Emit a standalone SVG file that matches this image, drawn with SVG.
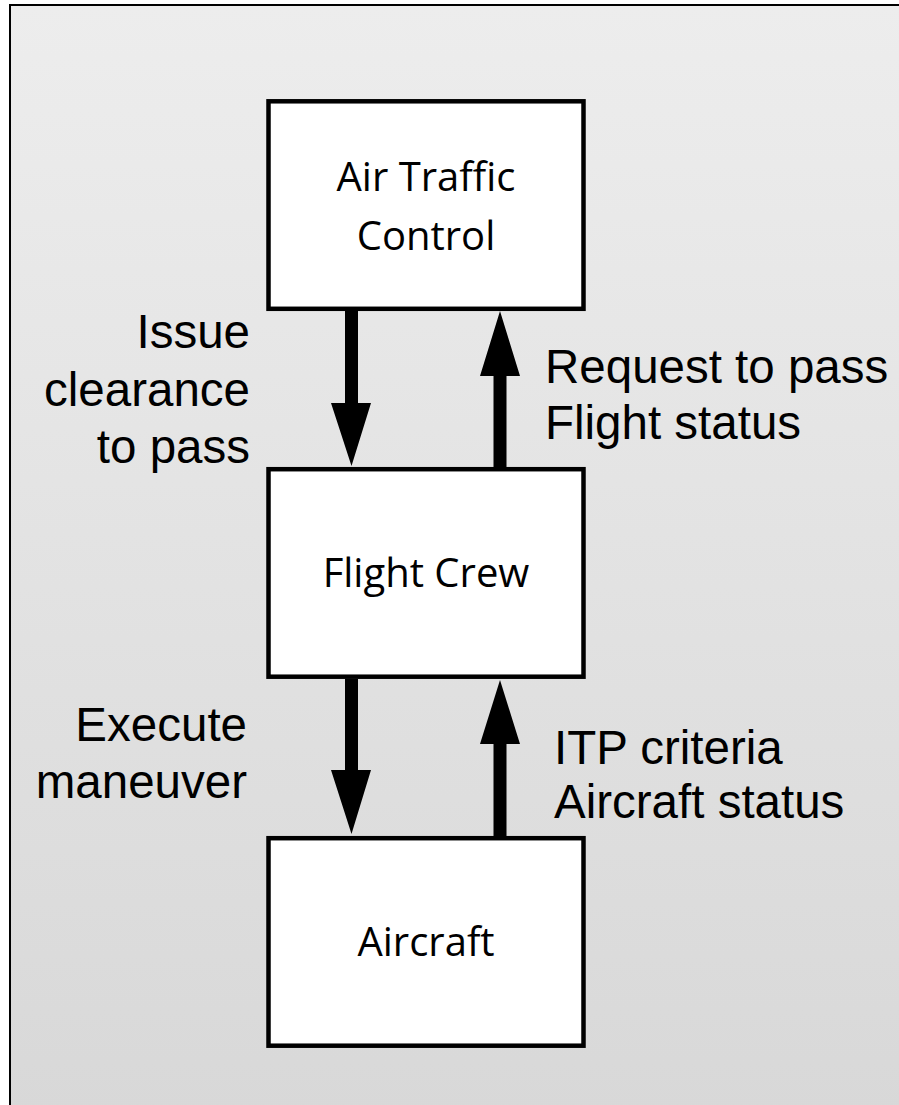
<svg xmlns="http://www.w3.org/2000/svg" width="899" height="1105" viewBox="0 0 899 1105">
  <defs>
    <linearGradient id="bg" x1="0" y1="0" x2="0" y2="1">
      <stop offset="0" stop-color="#ededed"/>
      <stop offset="1" stop-color="#d8d8d8"/>
    </linearGradient>
    <style>
      .box { fill: #ffffff; stroke: #000000; stroke-width: 4.5; }
      .boxText { font-family: "Open Sans", "Noto Sans", sans-serif; font-size: 40px; fill: #000000; text-anchor: middle; }
      .lbl { font-family: "Liberation Sans", Arial, sans-serif; font-size: 47.5px; fill: #000000; }
      .arrow { fill: #000000; }
    </style>
  </defs>

  <!-- page background and frame -->
  <rect x="0" y="0" width="899" height="1105" fill="#ffffff"/>
  <rect x="10" y="5" width="900" height="1110" fill="url(#bg)" stroke="#000000" stroke-width="2"/>

  <!-- nodes -->
  <g id="atc">
    <rect class="box" x="268.5" y="101.3" width="315" height="207.5"/>
    <text class="boxText" x="426" y="191">Air Traffic</text>
    <text class="boxText" x="426" y="250">Control</text>
  </g>
  <g id="flight-crew">
    <rect class="box" x="268.5" y="469.2" width="315" height="207.5"/>
    <text class="boxText" x="426" y="586.7">Flight Crew</text>
  </g>
  <g id="aircraft">
    <rect class="box" x="268.5" y="838.2" width="315" height="207.5"/>
    <text class="boxText" x="426" y="955.5">Aircraft</text>
  </g>

  <!-- connectors -->
  <g id="connectors">
    <!-- ATC to crew -->
    <polygon class="arrow" points="345,311 358,311 358,403 371,403 351.5,466 331,403 345,403"/>
    <!-- crew to ATC -->
    <polygon class="arrow" points="500,311 520,376 506.5,376 506.5,467 493.5,467 493.5,376 480,376"/>
    <!-- crew to aircraft -->
    <polygon class="arrow" points="345,679 358,679 358,770 371,770 351.5,834 331,770 345,770"/>
    <!-- aircraft to crew -->
    <polygon class="arrow" points="500,680 520,744 506.5,744 506.5,836 493.5,836 493.5,744 480,744"/>

    <text class="lbl" text-anchor="end" x="250" y="348">Issue</text>
    <text class="lbl" text-anchor="end" x="250" y="406">clearance</text>
    <text class="lbl" text-anchor="end" x="250" y="463">to pass</text>

    <text class="lbl" x="545" y="383.3">Request to pass</text>
    <text class="lbl" x="545" y="439.3">Flight status</text>

    <text class="lbl" text-anchor="end" x="247" y="740.7">Execute</text>
    <text class="lbl" text-anchor="end" x="247" y="797.7">maneuver</text>

    <text class="lbl" x="554" y="764">ITP criteria</text>
    <text class="lbl" x="554" y="818">Aircraft status</text>
  </g>
</svg>
